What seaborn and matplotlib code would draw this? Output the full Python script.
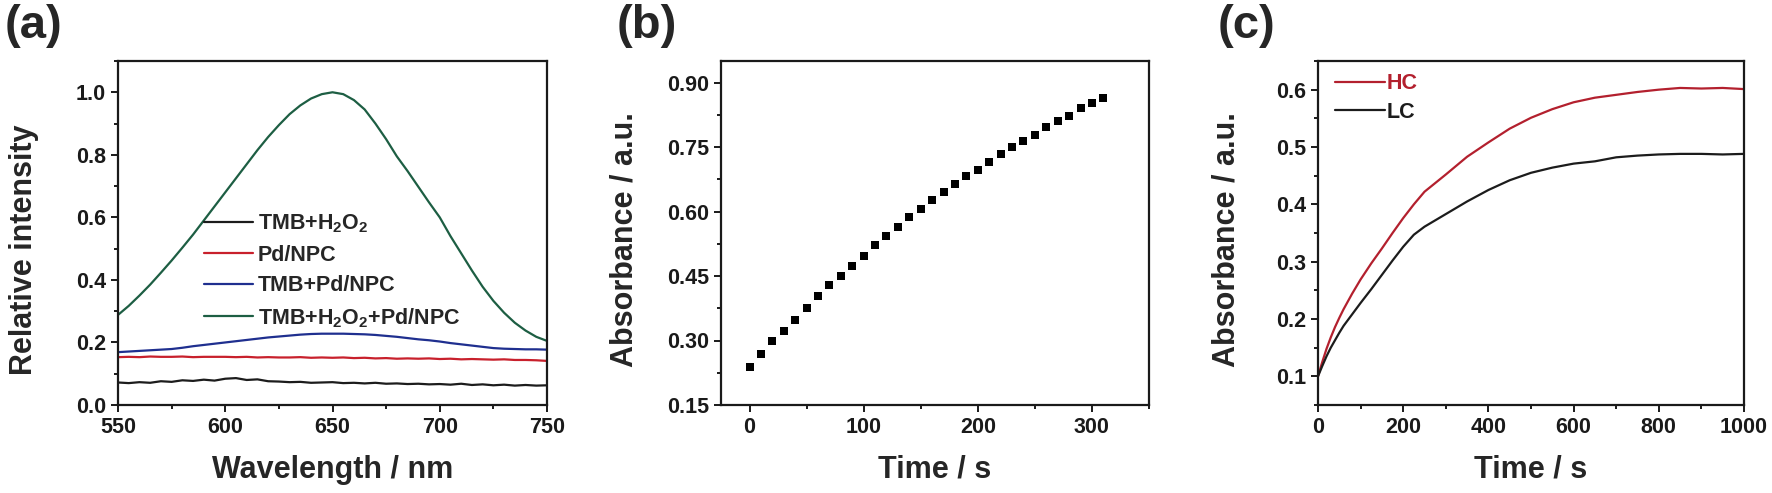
import numpy as np
import pandas as pd
import matplotlib
matplotlib.use("Agg")
import matplotlib.pyplot as plt
import seaborn as sns
from matplotlib.ticker import MultipleLocator

# ---- (a) spectra, 550-750 nm every 5 nm ----
wavelength = list(range(550, 751, 5))
tmb_h2o2 = [0.072, 0.070, 0.073, 0.071, 0.076, 0.074, 0.079, 0.077, 0.081, 0.078,
            0.084, 0.086, 0.080, 0.082, 0.076, 0.075, 0.073, 0.074, 0.071, 0.072,
            0.073, 0.070, 0.071, 0.069, 0.071, 0.068, 0.069, 0.067, 0.068, 0.066,
            0.067, 0.065, 0.068, 0.064, 0.066, 0.063, 0.065, 0.062, 0.064, 0.062, 0.063]
pd_npc = [0.153, 0.154, 0.153, 0.155, 0.154, 0.154, 0.155, 0.153, 0.154, 0.154,
          0.154, 0.153, 0.154, 0.152, 0.153, 0.152, 0.152, 0.153, 0.151, 0.152,
          0.151, 0.152, 0.150, 0.151, 0.149, 0.150, 0.148, 0.149, 0.148, 0.149,
          0.147, 0.148, 0.146, 0.147, 0.146, 0.145, 0.146, 0.144, 0.144, 0.143, 0.141]
tmb_pd_npc = [0.169, 0.171, 0.173, 0.175, 0.177, 0.179, 0.183, 0.188, 0.192, 0.196,
              0.200, 0.204, 0.208, 0.212, 0.216, 0.219, 0.222, 0.225, 0.227, 0.228,
              0.228, 0.228, 0.227, 0.226, 0.224, 0.221, 0.218, 0.214, 0.210, 0.207,
              0.203, 0.198, 0.194, 0.190, 0.186, 0.182, 0.180, 0.179, 0.178, 0.178, 0.177]
tmb_h2o2_pd_npc = [0.288, 0.317, 0.350, 0.385, 0.423, 0.462, 0.503, 0.545, 0.590, 0.635,
                   0.680, 0.725, 0.770, 0.815, 0.857, 0.895, 0.930, 0.958, 0.980, 0.994,
                   1.000, 0.994, 0.975, 0.945, 0.900, 0.850, 0.795, 0.748, 0.698, 0.648,
                   0.600, 0.540, 0.485, 0.430, 0.378, 0.333, 0.295, 0.263, 0.238, 0.218, 0.205]
spec_labels = ["TMB+H$_2$O$_2$", "Pd/NPC", "TMB+Pd/NPC", "TMB+H$_2$O$_2$+Pd/NPC"]
spec_colors = ["#1c1c1c", "#c8202c", "#1f2f8f", "#1d5e43"]

# ---- (b) absorbance vs time ----
time_b = list(range(0, 311, 10))
abs_b = [0.239, 0.269, 0.298, 0.323, 0.348, 0.375, 0.403, 0.430, 0.451, 0.473,
         0.497, 0.522, 0.544, 0.563, 0.588, 0.605, 0.626, 0.645, 0.664, 0.682,
         0.696, 0.714, 0.733, 0.750, 0.764, 0.778, 0.797, 0.811, 0.823, 0.840,
         0.853, 0.865]

# ---- (c) kinetics HC / LC ----
time_c = [0, 10, 20, 30, 40, 50, 60, 80, 100, 125, 150, 175, 200, 225, 250, 300, 350,
          400, 450, 500, 550, 600, 650, 700, 750, 800, 850, 900, 950, 1000]
hc = [0.100, 0.125, 0.148, 0.168, 0.186, 0.202, 0.217, 0.244, 0.269, 0.297, 0.323,
      0.350, 0.376, 0.400, 0.422, 0.452, 0.483, 0.508, 0.532, 0.551, 0.566, 0.578,
      0.586, 0.591, 0.596, 0.600, 0.603, 0.602, 0.603, 0.601]
lc = [0.100, 0.118, 0.135, 0.150, 0.163, 0.176, 0.188, 0.208, 0.228, 0.252, 0.277,
      0.302, 0.326, 0.347, 0.361, 0.383, 0.405, 0.425, 0.442, 0.455, 0.464, 0.471,
      0.475, 0.482, 0.485, 0.487, 0.488, 0.488, 0.487, 0.488]
kin_colors = {"HC": "#b3202e", "LC": "#1c1c1c"}

sns.set_style("ticks")
plt.rcParams["font.family"] = ["Liberation Sans", "DejaVu Sans"]
plt.rcParams["font.weight"] = "bold"
plt.rcParams["axes.labelweight"] = "bold"
plt.rcParams["mathtext.fontset"] = "custom"
plt.rcParams["mathtext.rm"] = "Liberation Sans:bold"
plt.rcParams["mathtext.it"] = "Liberation Sans:bold"
plt.rcParams["mathtext.bf"] = "Liberation Sans:bold"
plt.rcParams["mathtext.default"] = "rm"

fig = plt.figure(figsize=(17.72, 4.93), dpi=100)
ax_a = fig.add_axes([118 / 1772, 88 / 493, 429 / 1772, 344 / 493])
ax_b = fig.add_axes([721 / 1772, 88 / 493, 428 / 1772, 344 / 493])
ax_c = fig.add_axes([1318 / 1772, 88 / 493, 426 / 1772, 344 / 493])


def style_axes(ax):
    for sp in ax.spines.values():
        sp.set_linewidth(1.6)
        sp.set_color("#1a1a1a")
    ax.tick_params(which="both", direction="out", top=False, right=False,
                   width=1.4, labelsize=15.5, colors="#1a1a1a")
    ax.tick_params(which="major", length=5)
    ax.tick_params(which="minor", length=3)
    for lab in ax.get_xticklabels() + ax.get_yticklabels():
        lab.set_fontweight("bold")


# (a)
spec_df = pd.DataFrame({
    "wl": wavelength * 4,
    "val": tmb_h2o2 + pd_npc + tmb_pd_npc + tmb_h2o2_pd_npc,
    "series": sum([[lab] * len(wavelength) for lab in spec_labels], []),
})
sns.lineplot(data=spec_df, x="wl", y="val", hue="series", hue_order=spec_labels,
             palette=dict(zip(spec_labels, spec_colors)), linewidth=1.6, ax=ax_a)
ax_a.set_xlim(550, 750)
ax_a.set_ylim(0, 1.1)
ax_a.xaxis.set_major_locator(MultipleLocator(50))
ax_a.xaxis.set_minor_locator(MultipleLocator(25))
ax_a.yaxis.set_major_locator(MultipleLocator(0.2))
ax_a.yaxis.set_minor_locator(MultipleLocator(0.1))
ax_a.yaxis.set_major_formatter(lambda v, p: f"{v:.1f}")
ax_a.set_xlabel("Wavelength / nm", fontsize=22, fontweight="bold")
ax_a.set_ylabel("Relative intensity", fontsize=22, fontweight="bold")
ax_a.legend(loc="upper left", bbox_to_anchor=(0.2, 0.56), frameon=False,
            prop={"size": 15.5, "weight": "bold"}, handlelength=2.3,
            handletextpad=0.2, labelspacing=0.45, borderpad=0, borderaxespad=0)
style_axes(ax_a)
ax_a.xaxis.set_label_coords(0.5, -0.145)
ax_a.yaxis.set_label_coords(-0.185, 0.45)

# (b)
b_df = pd.DataFrame({"t": time_b, "a": abs_b})
sns.scatterplot(data=b_df, x="t", y="a", marker="s", s=34, color="black",
                edgecolor="black", linewidth=0, ax=ax_b)
ax_b.set_xlim(-25, 350)
ax_b.set_ylim(0.15, 0.95)
ax_b.xaxis.set_major_locator(MultipleLocator(100))
ax_b.xaxis.set_minor_locator(MultipleLocator(50))
ax_b.yaxis.set_major_locator(MultipleLocator(0.15))
ax_b.yaxis.set_minor_locator(MultipleLocator(0.075))
ax_b.yaxis.set_major_formatter(lambda v, p: f"{v:.2f}")
ax_b.set_xlabel("Time / s", fontsize=22, fontweight="bold")
ax_b.set_ylabel("Absorbance / a.u.", fontsize=22, fontweight="bold")
style_axes(ax_b)
ax_b.xaxis.set_label_coords(0.5, -0.145)
ax_b.yaxis.set_label_coords(-0.19, 0.48)

# (c)
c_df = pd.DataFrame({
    "t": time_c * 2,
    "a": hc + lc,
    "series": ["HC"] * len(time_c) + ["LC"] * len(time_c),
})
sns.lineplot(data=c_df, x="t", y="a", hue="series", hue_order=["HC", "LC"],
             palette=kin_colors, linewidth=1.6, ax=ax_c)
ax_c.set_xlim(0, 1000)
ax_c.set_ylim(0.05, 0.65)
ax_c.xaxis.set_major_locator(MultipleLocator(200))
ax_c.xaxis.set_minor_locator(MultipleLocator(100))
ax_c.yaxis.set_major_locator(MultipleLocator(0.1))
ax_c.yaxis.set_minor_locator(MultipleLocator(0.05))
ax_c.yaxis.set_major_formatter(lambda v, p: f"{v:.1f}")
ax_c.set_xlabel("Time / s", fontsize=22, fontweight="bold")
ax_c.set_ylabel("Absorbance / a.u.", fontsize=22, fontweight="bold")
leg_c = ax_c.legend(loc="upper left", bbox_to_anchor=(0.04, 0.965), frameon=False,
                    prop={"size": 15.5, "weight": "bold"}, handlelength=2.3,
                    handletextpad=0.1, labelspacing=0.35, borderpad=0, borderaxespad=0)
for txt, name in zip(leg_c.get_texts(), ["HC", "LC"]):
    txt.set_color(kin_colors[name])
style_axes(ax_c)
ax_c.xaxis.set_label_coords(0.5, -0.145)
ax_c.yaxis.set_label_coords(-0.18, 0.48)

# panel letters
for x, letter in [(5, "(a)"), (617, "(b)"), (1218, "(c)")]:
    fig.text(x / 1772, 0.992, letter, fontsize=34, fontweight="bold",
             ha="left", va="top")

fig.savefig("out.png", dpi=100)
